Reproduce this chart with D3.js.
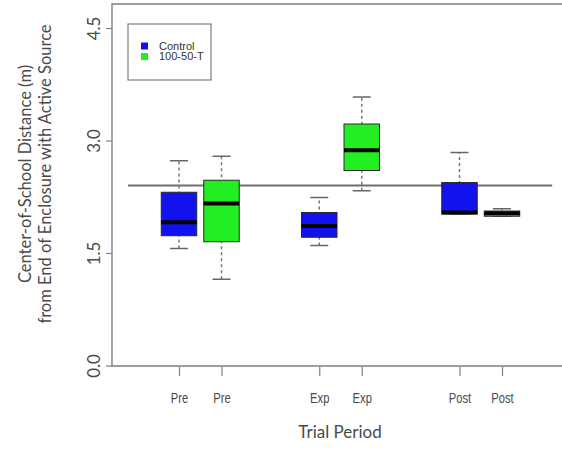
<!DOCTYPE html>
<html>
<head>
<meta charset="utf-8">
<script src="https://cdn.jsdelivr.net/npm/d3@7"></script>
<style>
  html, body { margin: 0; padding: 0; background: #fff; }
  svg { display: block; }
</style>
</head>
<body>
<svg id="chart" width="562" height="452"></svg>
<script>
// Box summaries per trial period: [lower whisker, Q1, median, Q3, upper whisker]
const periods = ["Pre", "Exp", "Post"];
const seriesNames = ["Control", "100-50-T"];
const seriesColors = ["#1212ee", "#22ee22"];
const controlStats = [
  [1.56, 1.73, 1.91, 2.31, 2.73],
  [1.60, 1.71, 1.86, 2.04, 2.24],
  [2.02, 2.02, 2.04, 2.44, 2.84]
];
const treatmentStats = [
  [1.15, 1.65, 2.16, 2.47, 2.79],
  [2.33, 2.60, 2.87, 3.22, 3.58],
  [1.99, 1.99, 2.03, 2.06, 2.09]
];
// Box positions along the x axis (boxplot "at" units)
const boxAt = [1, 2, 4.3, 5.3, 7.6, 8.6];
const yTicks = [0, 1.5, 3.0, 4.5];
const referenceValue = 2.4;
const referenceSpan = [-0.2, 9.78];

const svg = d3.select("#chart");
const frame = { left: 112, top: 4, bottom: 366, right: 600 };

const x = d3.scaleLinear().domain([1, 8.6]).range([179, 502]);
const y = d3.scaleLinear().domain([0, 4.5]).range([365.5, 28]);
const boxW = x(1.835) - x(1);

// Flatten into one record per box
const boxes = [];
periods.forEach((p, i) => {
  [controlStats[i], treatmentStats[i]].forEach((s, j) => {
    boxes.push({ label: p, series: j, at: boxAt[i * 2 + j],
      lo: s[0], q1: s[1], med: s[2], q3: s[3], hi: s[4] });
  });
});

// Plot frame (open on the right)
svg.append("path")
  .attr("d", `M${frame.right},${frame.top}H${frame.left}V${frame.bottom}H${frame.right}`)
  .attr("fill", "none").attr("stroke", "#808080").attr("stroke-width", 1.4);

// Y axis
const yAxis = d3.axisLeft(y).tickValues(yTicks).tickSize(6).tickFormat(d3.format(".1f"));
const gy = svg.append("g").attr("transform", `translate(${frame.left},0)`).call(yAxis);
gy.select(".domain").remove();
gy.selectAll(".tick line").attr("stroke", "#808080").attr("stroke-width", 1.2);
gy.selectAll(".tick text")
  .attr("x", 0).attr("y", 0).attr("dy", null)
  .attr("transform", "translate(-12,0) rotate(-90)")
  .attr("text-anchor", "middle")
  .attr("font-family", "Lato, 'Open Sans', sans-serif")
  .attr("font-size", 17).attr("fill", "#4a4a4a");

// X axis
const xAxis = d3.axisBottom(x).tickValues(boxAt).tickSize(9)
  .tickFormat((d, i) => boxes[i].label);
const gx = svg.append("g").attr("transform", `translate(0,${frame.bottom + 1})`).call(xAxis);
gx.select(".domain").remove();
gx.selectAll(".tick line").attr("stroke", "#808080").attr("stroke-width", 1.2);
gx.selectAll(".tick text")
  .attr("y", 0).attr("dy", null)
  .attr("transform", "translate(0,36) scale(0.8,1)")
  .attr("text-anchor", "middle")
  .attr("font-family", "'Liberation Sans', Arial, sans-serif")
  .attr("font-size", 14).attr("fill", "#4a4a4a");

// Reference line
svg.append("line")
  .attr("x1", x(referenceSpan[0])).attr("x2", x(referenceSpan[1]))
  .attr("y1", y(referenceValue)).attr("y2", y(referenceValue))
  .attr("stroke", "#6e6e6e").attr("stroke-width", 2);

// Boxes
const g = svg.append("g").selectAll("g").data(boxes).join("g");
g.append("line") // whisker
  .attr("x1", d => x(d.at)).attr("x2", d => x(d.at))
  .attr("y1", d => y(d.lo)).attr("y2", d => y(d.hi))
  .attr("stroke", "#777").attr("stroke-width", 1.5).attr("stroke-dasharray", "3,3");
g.selectAll("line.cap").data(d => [d.lo, d.hi].map(v => ({ at: d.at, v })))
  .join("line").attr("class", "cap")
  .attr("x1", d => x(d.at) - 9).attr("x2", d => x(d.at) + 9)
  .attr("y1", d => y(d.v)).attr("y2", d => y(d.v))
  .attr("stroke", "#666").attr("stroke-width", 1.5);
g.append("rect")
  .attr("x", d => x(d.at) - boxW / 2).attr("width", boxW)
  .attr("y", d => y(d.q3)).attr("height", d => Math.max(y(d.q1) - y(d.q3), 1))
  .attr("fill", d => seriesColors[d.series])
  .attr("stroke", "#2a2a2a").attr("stroke-width", 1);
g.append("line") // median
  .attr("x1", d => x(d.at) - boxW / 2).attr("x2", d => x(d.at) + boxW / 2)
  .attr("y1", d => y(d.med)).attr("y2", d => y(d.med))
  .attr("stroke", "#000").attr("stroke-width", 4);

// Legend
const lg = svg.append("g").attr("transform", "translate(128,24)");
lg.append("rect").attr("width", 83).attr("height", 56)
  .attr("fill", "#fff").attr("stroke", "#808080").attr("stroke-width", 1.2);
seriesNames.forEach((name, i) => {
  const row = lg.append("g").attr("transform", `translate(0,${22 + i * 10.5})`);
  row.append("rect").attr("x", 13).attr("y", -3.5).attr("width", 7).attr("height", 7)
    .attr("fill", seriesColors[i]);
  row.append("text").attr("x", 31).attr("y", 0).attr("dy", "0.35em")
    .attr("font-family", "'Liberation Sans', Arial, sans-serif")
    .attr("font-size", 11).attr("fill", "#333")
    .text(name);
});

// Axis titles
svg.append("text")
  .attr("transform", `translate(340,438)`)
  .attr("text-anchor", "middle")
  .attr("font-family", "Lato, 'Open Sans', sans-serif")
  .attr("font-size", 17).attr("fill", "#4a4a4a")
  .text("Trial Period");
const yt = svg.append("text")
  .attr("transform", "translate(0,174) rotate(-90)")
  .attr("text-anchor", "middle")
  .attr("font-family", "Lato, 'Open Sans', sans-serif")
  .attr("font-size", 16.5).attr("fill", "#4a4a4a");
yt.append("tspan").attr("x", 0).attr("y", 31).text("Center-of-School Distance (m)");
yt.append("tspan").attr("x", 0).attr("y", 51).text("from End of Enclosure with Active Source");
</script>
</body>
</html>
